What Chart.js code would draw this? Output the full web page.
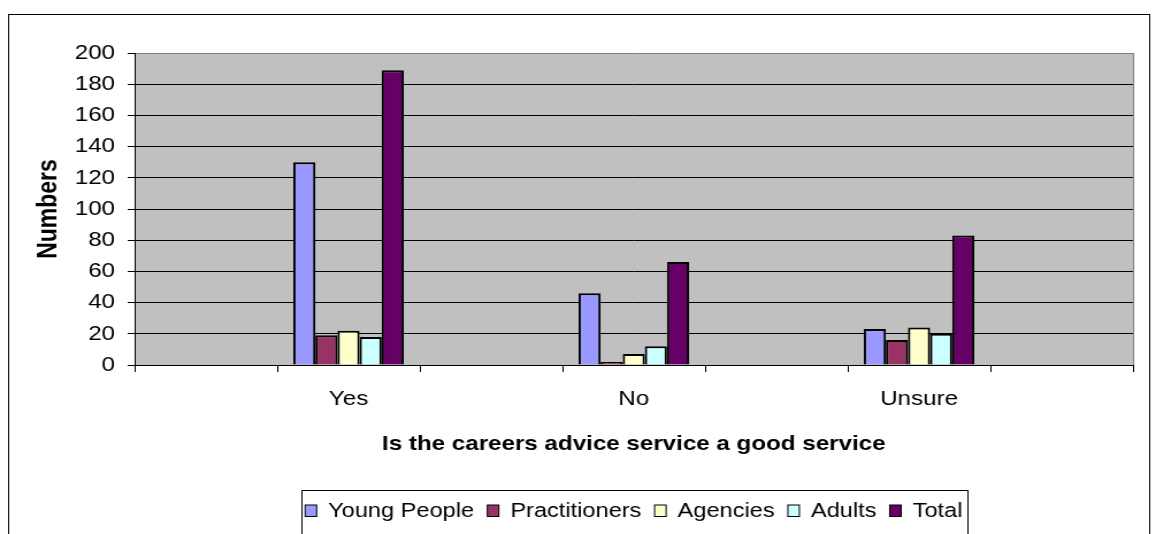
<!DOCTYPE html>
<html>
<head>
<meta charset="utf-8">
<script src="https://cdn.jsdelivr.net/npm/chart.js@4.4.0/dist/chart.umd.min.js"></script>
<style>
  html, body { margin: 0; padding: 0; background: #fff; overflow: hidden; }
  /* the original picture is stretched sideways, so the canvas is too */
  #wrap { width: 1005px; height: 534px; transform: scaleX(1.15025); transform-origin: 0 0; }
  #chart { display: block; }
</style>
</head>
<body>
<div id="wrap"><canvas id="chart" width="1005" height="534"></canvas></div>
<script>
// categories (the empty ones are blank slots on the original axis)
const categories = ['', 'Yes', '', 'No', '', 'Unsure', ''];
const seriesNames = ['Young People', 'Practitioners', 'Agencies', 'Adults', 'Total'];
const youngPeople   = [null, 130, null, 46, null, 23, null];
const practitioners = [null, 19, null, 2, null, 16, null];
const agencies      = [null, 22, null, 7, null, 24, null];
const adults        = [null, 18, null, 12, null, 20, null];
const total         = [null, 189, null, 66, null, 83, null];
const yTicks = [0, 20, 40, 60, 80, 100, 120, 140, 160, 180, 200];

const seriesValues = [youngPeople, practitioners, agencies, adults, total];
const colors = ['#9999FF', '#993366', '#FFFFCC', '#CCFFFF', '#660066'];

Chart.defaults.font.family = '"Liberation Sans", Arial, sans-serif';
Chart.defaults.color = '#000';

// background of the plot, outer frame and the legend box
const framePlugin = {
  id: 'frame',
  beforeDraw(chart) {
    const { ctx, chartArea: a } = chart;
    ctx.save();
    ctx.fillStyle = '#fff';
    ctx.fillRect(0, 0, chart.width, chart.height);
    ctx.fillStyle = '#C0C0C0';
    ctx.fillRect(a.left, a.top, a.right - a.left, a.bottom - a.top);
    ctx.strokeStyle = '#000';
    ctx.lineWidth = 1;
    ctx.strokeRect(7.5, 14.5, 992, 600);
    ctx.restore();
  },
  afterDraw(chart) {
    const { ctx, chartArea: a } = chart;
    ctx.save();
    // grey right edge of the plot
    ctx.strokeStyle = '#808080';
    ctx.lineWidth = 1;
    ctx.beginPath();
    ctx.moveTo(Math.round(a.right) + 0.5, a.top);
    ctx.lineTo(Math.round(a.right) + 0.5, a.bottom);
    ctx.stroke();

    // legend
    ctx.font = '20.5px "Liberation Sans", Arial, sans-serif';
    const items = chart.data.datasets.map(d => ({
      label: d.label, color: d.backgroundColor, w: ctx.measureText(d.label).width
    }));
    const sw = 10, gapText = 10, gapItem = 11.5;
    const full = items.reduce((s, it) => s + sw + gapText + it.w, 0) + gapItem * (items.length - 1);
    let x = (a.left + a.right) / 2 - full / 2;
    ctx.strokeStyle = '#000';
    ctx.strokeRect(Math.round(x - 3) + 0.5, 490.5, Math.round(full + 8), 120);
    ctx.textBaseline = 'alphabetic';
    ctx.fillStyle = '#000';
    items.forEach(it => {
      ctx.fillStyle = it.color;
      ctx.fillRect(x, 505, sw, 11.5);
      ctx.strokeRect(x, 505, sw, 11.5);
      ctx.fillStyle = '#000';
      ctx.fillText(it.label, x + sw + gapText, 517);
      x += sw + gapText + it.w + gapItem;
    });
    ctx.restore();
  }
};

const ctx = document.getElementById('chart').getContext('2d');
const chart = new Chart(ctx, {
  type: 'bar',
  data: {
    labels: categories,
    datasets: seriesNames.map((name, i) => ({
      label: name,
      data: seriesValues[i],
      backgroundColor: colors[i],
      borderColor: '#000',
      borderWidth: 2
    }))
  },
  options: {
    responsive: false,
    animation: false,
    devicePixelRatio: 1,
    layout: { padding: { top: 53, right: 20, left: 0, bottom: 0 } },
    plugins: { legend: { display: false }, tooltip: { enabled: false } },
    datasets: { bar: { categoryPercentage: 0.775, barPercentage: 1 } },
    scales: {
      x: {
        grid: { drawOnChartArea: false, tickLength: 7, color: '#000', offset: true },
        border: { color: '#000', width: 1 },
        ticks: { font: { size: 21 }, color: '#000', padding: 15, maxRotation: 0, autoSkip: false },
        title: {
          display: true,
          text: 'Is the careers advice service a good service',
          font: { size: 21, weight: 'bold' },
          color: '#000',
          padding: { top: 0, bottom: 77 }
        },
        afterFit: s => { s.height = 169; }
      },
      y: {
        min: 0,
        max: 200,
        afterBuildTicks: s => { s.ticks = yTicks.map(v => ({ value: v })); },
        grid: {
          color: c => (c.tick && c.tick.value === 200 ? '#808080' : '#000'),
          tickColor: '#000',
          tickLength: 6
        },
        border: { color: '#000', width: 1 },
        ticks: { font: { size: 21 }, color: '#000', padding: 11 },
        title: {
          display: true,
          text: 'Numbers',
          font: { size: 23, weight: 'bold' },
          color: '#000',
          padding: { top: 29, bottom: 0 }
        },
        afterFit: s => { s.width = 117; }
      }
    }
  },
  plugins: [framePlugin]
});
</script>
</body>
</html>
